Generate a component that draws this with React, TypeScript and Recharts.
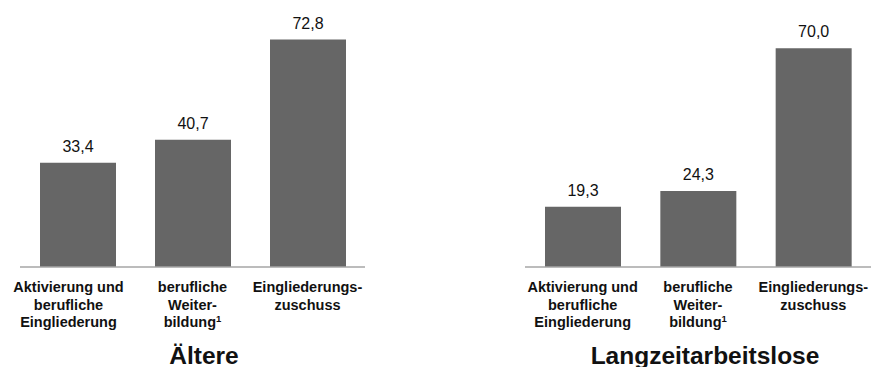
import React from "react";
import { BarChart, Bar, XAxis, YAxis, LabelList } from "recharts";

// category lines; a trailing "^" marks a footnote digit drawn as superscript
const categories = [
  ["Aktivierung und", "berufliche", "Eingliederung"],
  ["berufliche", "Weiter-", "bildung^1"],
  ["Eingliederungs-", "zuschuss"],
];

const aeltereValues = [33.4, 40.7, 72.8];
const langzeitValues = [19.3, 24.3, 70.0];

const FONT = "'Liberation Sans', Arial, sans-serif";
const BAR_COLOR = "#666666";

const toRows = (values: number[]) =>
  values.map((value, i) => ({ name: String(i), value }));

const formatValue = (v: unknown) => Number(v).toFixed(1).replace(".", ",");

function CategoryTick(props: any) {
  const { x, y, payload, shift } = props;
  const lines = categories[Number(payload.value)] || [];
  const cx = x + (payload.index === 0 ? shift : 0);
  return (
    <g>
      {lines.map((line, i) => {
        const [main, note] = line.split("^");
        return (
          <text
            key={i}
            x={cx}
            y={y + 17 + i * 17.5}
            textAnchor="middle"
            fontFamily={FONT}
            fontSize={14.5}
            fontWeight="bold"
            fill="#111"
          >
            {main}
            {note && (
              <tspan fontSize={9.5} dy={-5}>
                {note}
              </tspan>
            )}
          </text>
        );
      })}
    </g>
  );
}

interface PanelProps {
  values: number[];
  title: string;
  marginLeft: number;
  marginRight: number;
  firstShift: number;
  titleCenter: number;
}

function Panel({ values, title, marginLeft, marginRight, firstShift, titleCenter }: PanelProps) {
  return (
    <div style={{ position: "relative", width: 439, height: 367 }}>
      <BarChart
        width={439}
        height={367}
        data={toRows(values)}
        margin={{ top: 17, right: marginRight, bottom: 0, left: marginLeft }}
      >
        <XAxis
          dataKey="name"
          height={100}
          tickLine={false}
          axisLine={{ stroke: "#a6a6a6", strokeWidth: 1.5 }}
          interval={0}
          tick={<CategoryTick shift={firstShift} />}
        />
        <YAxis hide domain={[0, 80]} />
        <Bar dataKey="value" fill={BAR_COLOR} barSize={76} isAnimationActive={false}>
          <LabelList
            dataKey="value"
            position="top"
            offset={11}
            formatter={formatValue}
            style={{ fontFamily: FONT, fontSize: 16, fill: "#111" }}
          />
        </Bar>
      </BarChart>
      <div
        style={{
          position: "absolute",
          left: titleCenter - 150,
          top: 344,
          width: 300,
          textAlign: "center",
          fontFamily: FONT,
          fontSize: 24.5,
          lineHeight: "24px",
          fontWeight: "bold",
          color: "#111",
          whiteSpace: "nowrap",
        }}
      >
        {title}
      </div>
    </div>
  );
}

export default function App() {
  return (
    <div
      style={{
        position: "absolute",
        left: 0,
        top: 0,
        width: 878,
        height: 367,
        overflow: "hidden",
        background: "#fff",
        display: "flex",
      }}
    >
      <Panel
        values={aeltereValues}
        title="Ältere"
        marginLeft={20}
        marginRight={74}
        firstShift={-9}
        titleCenter={204}
      />
      <Panel
        values={langzeitValues}
        title="Langzeitarbeitslose"
        marginLeft={86}
        marginRight={7}
        firstShift={0}
        titleCenter={266}
      />
    </div>
  );
}
